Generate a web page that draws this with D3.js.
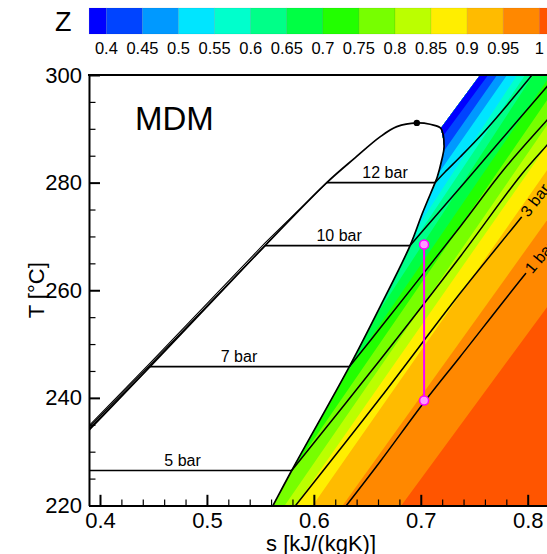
<!DOCTYPE html>
<html>
<head>
<meta charset="utf-8">
<script src="https://cdn.jsdelivr.net/npm/d3@7"></script>
<style>
  html, body { margin: 0; padding: 0; background: #fff; }
  svg { display: block; font-family: "Liberation Sans", Arial, Helvetica, sans-serif; }
</style>
</head>
<body>
<svg id="chart" width="547" height="554"></svg>
<script>
// ---------------- data ----------------
// Compressibility-factor levels, legend labels and band colours (band i lies below zLevels[i])
const zLevels = [0.4, 0.45, 0.5, 0.55, 0.6, 0.65, 0.7, 0.75, 0.8, 0.85, 0.9, 0.95, 1.0];
const zTickLabels = ["0.4", "0.45", "0.5", "0.55", "0.6", "0.65", "0.7", "0.75", "0.8", "0.85", "0.9", "0.95", "1"];
const zColors = ["#0000ff", "#0044ff", "#0099ff", "#00e5ff", "#00ffcc", "#00ff88", "#00ff44",
                 "#22ff00", "#77ff00", "#bbff00", "#ffee00", "#ffbb00", "#ff8800", "#ff5500"];

// Iso-Z lines in the superheated vapour region, [s kJ/(kgK), T °C]
const zContours = [
  [[0.7209, 288.66], [0.7630, 300.0]],
  [[0.7223, 286.06], [0.7714, 300.0]],
  [[0.7162, 281.60], [0.7807, 300.0]],
  [[0.6975, 271.94], [0.7901, 300.0]],
  [[0.6806, 265.25], [0.7976, 300.0]],
  [[0.6544, 254.10], [0.8051, 300.0]],
  [[0.6198, 241.46], [0.8182, 299.07]],
  [[0.5777, 225.85], [0.8182, 295.35]],
  [[0.5731, 220.09], [0.8182, 290.71]],
  [[0.5833, 220.09], [0.8182, 286.99]],
  [[0.5993, 220.09], [0.8182, 282.35]],
  [[0.6273, 220.09], [0.8182, 273.05]],
  [[0.6822, 220.09], [0.8182, 256.89]]
];

// Saturation dome: liquid branch up to the critical point, vapour branch down from it
const satLiquid = [[0.380, 232.1], [0.3897, 234.0], [0.4468, 245.8], [0.5544, 268.3], [0.6121, 280.0],
                   [0.6385, 284.6], [0.6619, 288.5], [0.6776, 290.4], [0.6963, 291.1]];
const satVapor = [[0.6963, 291.1], [0.7087, 290.84], [0.7187, 290.1], [0.7218, 286.7], [0.7196, 284.2],
                  [0.7155, 281.1], [0.7134, 280.0], [0.7017, 274.4], [0.6900, 268.3], [0.6619, 256.9],
                  [0.6332, 245.8], [0.5793, 226.5], [0.5621, 220.1], [0.5585, 218.8]];
const criticalPoint = [0.6963, 291.1];
// Upper edge of the tabulated vapour region
const vapourEdge = [[0.7187, 290.1], [0.7555, 300.0]];

// Two-phase isobars (pressure, saturation T, liquid s, vapour s, label s)
const twoPhaseBar = [12, 10, 7, 5];
const twoPhaseT = [280.0, 268.3, 245.8, 226.5];
const twoPhaseSLiq = [0.6121, 0.5544, 0.4468, 0.380];
const twoPhaseSVap = [0.7134, 0.6900, 0.6332, 0.5793];
const twoPhaseLabelS = [0.6666, 0.6236, 0.5300, 0.4772];

// Compressed-liquid isobars
const liquid12 = [[0.6121, 280.0], [0.5544, 268.8], [0.4468, 246.45], [0.380, 232.85]];
const liquid10 = [[0.5544, 268.3], [0.4468, 246.15], [0.380, 232.55]];
const liquid7 = [[0.4468, 245.8], [0.380, 232.22]];

// Superheated-vapour isobars
const vapour12 = [[0.7134, 280.0], [0.7227, 281.97], [0.7368, 284.76], [0.7583, 289.22], [0.7817, 294.61], [0.8041, 300.0], [0.812, 301.9]];
const vapour10 = [[0.6900, 268.3], [0.7430, 280.49], [0.8179, 297.83], [0.830, 300.6]];
const vapour7 = [[0.6332, 245.8], [0.6619, 252.93], [0.7368, 271.81], [0.7773, 282.35], [0.8182, 291.64], [0.830, 294.3]];
const vapour5 = [[0.5793, 226.5], [0.6619, 247.04], [0.7368, 266.23], [0.7938, 281.42], [0.8182, 286.99], [0.830, 289.7]];
const vapour3 = [[0.5796, 219.16], [0.6619, 239.92], [0.7368, 259.43], [0.7945, 273.67], [0.8182, 279.74], [0.830, 282.8]];
const vapour1 = [[0.6264, 218.98], [0.6619, 228.14], [0.7040, 239.42], [0.7368, 247.65], [0.7985, 263.20], [0.8182, 267.85], [0.830, 270.6]];
const vapourLabels = [{ text: "3 bar", line: vapour3, s: 0.7950 }, { text: "1 bar", line: vapour1, s: 0.7990 }];

// Expansion process (constant entropy)
const processS = 0.7031;
const processT = [268.5, 239.5];

// Axis ticks
const xTicks = [0.4, 0.5, 0.6, 0.7, 0.8];
const yTicks = [220, 240, 260, 280, 300];

// ---------------- layout ----------------
const W = 547, H = 554;
const sLeft = 0.3897, sRight = 0.83;
const x = d3.scaleLinear().domain([0.4, 0.8]).range([100, 527.7]);
const y = d3.scaleLinear().domain([220, 300]).range([505.5, 75]);
const xAxisScale = d3.scaleLinear().domain([sLeft, sRight]).range([x(sLeft), x(sRight)]);

const svg = d3.select("#chart");
const defs = svg.append("defs");

const plotL = x(sLeft), plotR = x(sRight), plotT = y(300), plotB = y(220);
defs.append("clipPath").attr("id", "plotClip")
  .append("rect").attr("x", plotL).attr("y", plotT).attr("width", plotR - plotL).attr("height", plotB - plotT);

const px = d => [x(d[0]), y(d[1])];
const straight = d3.line().x(d => x(d[0])).y(d => y(d[1]));
const smooth = d3.line().x(d => x(d[0])).y(d => y(d[1])).curve(d3.curveCatmullRom.alpha(0.5));

// Vapour-region outline: edge line above the dome, then the saturated vapour curve downwards
{
  const a = px(vapourEdge[0]), b = px(vapourEdge[1]);
  const len = Math.hypot(b[0] - a[0], b[1] - a[1]);
  const top = [b[0] + (b[0] - a[0]) / len * 120, b[1] + (b[1] - a[1]) / len * 120];
  const vap = smooth(satVapor.slice(2));
  const d = `M${top[0]},${top[1]}L` + vap.slice(1) + `L${W + 200},${H + 200}L${W + 200},-200Z`;
  defs.append("clipPath").attr("id", "fieldClip").append("path").attr("d", d);
}

// ---------------- coloured Z field ----------------
const field = svg.append("g").attr("clip-path", "url(#plotClip)")
  .append("g").attr("clip-path", "url(#fieldClip)");
field.append("rect").attr("x", plotL).attr("y", plotT).attr("width", plotR - plotL).attr("height", plotB - plotT)
  .attr("fill", zColors[zColors.length - 1]);

// Each iso-Z line bounds the lower-Z side (up and to the left); paint from high to low Z
function lowSide(c) {
  const p = c.map(px);
  const n = p.length;
  const d0 = [p[0][0] - p[1][0], p[0][1] - p[1][1]], l0 = Math.hypot(d0[0], d0[1]);
  const d1 = [p[n - 1][0] - p[n - 2][0], p[n - 1][1] - p[n - 2][1]], l1 = Math.hypot(d1[0], d1[1]);
  const start = [p[0][0] + d0[0] / l0 * 4000, p[0][1] + d0[1] / l0 * 4000];
  const end = [p[n - 1][0] + d1[0] / l1 * 4000, p[n - 1][1] + d1[1] / l1 * 4000];
  return [start, ...p, end, [-9000, -9000], [-9000, 9000]];
}
for (let k = zLevels.length - 1; k >= 0; k--) {
  field.append("path")
    .attr("d", "M" + lowSide(zContours[k]).map(q => q.join(",")).join("L") + "Z")
    .attr("fill", zColors[k]);
}

// ---------------- isolines ----------------
const lines = svg.append("g").attr("clip-path", "url(#plotClip)")
  .attr("fill", "none").attr("stroke", "#000").attr("stroke-linejoin", "round");

// masks that open a gap in the labelled vapour isobars
const labelGeom = vapourLabels.map((L, i) => {
  const pts = L.line;
  let j = 1;
  while (j < pts.length - 1 && pts[j][0] < L.s) j++;
  const a = pts[j - 1], b = pts[j];
  const t = (L.s - a[0]) / (b[0] - a[0]);
  const T = a[1] + t * (b[1] - a[1]);
  const pa = px(a), pb = px(b);
  const ang = Math.atan2(pb[1] - pa[1], pb[0] - pa[0]) * 180 / Math.PI;
  const p = [x(L.s), y(T)];
  const m = defs.append("mask").attr("id", "lblMask" + i).attr("maskUnits", "userSpaceOnUse")
    .attr("x", 0).attr("y", 0).attr("width", W).attr("height", H);
  m.append("rect").attr("x", 0).attr("y", 0).attr("width", W).attr("height", H).attr("fill", "#fff");
  m.append("rect").attr("x", -1).attr("y", -8).attr("width", 80).attr("height", 16)
    .attr("transform", `translate(${p[0]},${p[1]}) rotate(${ang})`).attr("fill", "#000");
  return { p, ang, text: L.text, line: L.line, mask: "lblMask" + i };
});

[vapour12, vapour10, vapour7, vapour5].forEach(v =>
  lines.append("path").attr("d", smooth(v)).attr("stroke-width", 1.5));
labelGeom.forEach(g =>
  lines.append("path").attr("d", smooth(g.line)).attr("stroke-width", 1.5).attr("mask", `url(#${g.mask})`));

[liquid12, liquid10, liquid7].forEach(v =>
  lines.append("path").attr("d", straight(v)).attr("stroke-width", 1.1));

twoPhaseBar.forEach((p, i) =>
  lines.append("line")
    .attr("x1", x(twoPhaseSLiq[i])).attr("x2", x(twoPhaseSVap[i]))
    .attr("y1", y(twoPhaseT[i])).attr("y2", y(twoPhaseT[i]))
    .attr("stroke-width", 1.7));

lines.append("path").attr("d", smooth(satLiquid.concat(satVapor.slice(1)))).attr("stroke-width", 1.7);

// ---------------- expansion process & critical point ----------------
svg.append("line")
  .attr("x1", x(processS)).attr("x2", x(processS))
  .attr("y1", y(processT[0])).attr("y2", y(processT[1]))
  .attr("stroke", "#ff00ff").attr("stroke-width", 2);
svg.selectAll("circle.state").data(processT).join("circle").attr("class", "state")
  .attr("cx", x(processS)).attr("cy", d => y(d)).attr("r", 4.5)
  .attr("fill", "#ff99ff").attr("stroke", "#ff00ff").attr("stroke-width", 1.5);

svg.append("circle").attr("cx", x(criticalPoint[0])).attr("cy", y(criticalPoint[1]))
  .attr("r", 3.2).attr("fill", "#000");

// ---------------- axes ----------------
const axisFont = 22;
const yMinor = d3.range(225, 300, 5).filter(v => v % 20 !== 0);
const xMinor = d3.range(0.42, 0.83, 0.02).map(v => +v.toFixed(2)).filter(v => Math.round(v * 100) % 10 !== 0);

const gy = svg.append("g").attr("transform", `translate(${plotL},0)`);
gy.call(d3.axisLeft(y).tickValues(yTicks).tickSize(-11).tickSizeOuter(0).tickPadding(7).tickFormat(d3.format("d")));
gy.select(".domain").attr("stroke-width", 2);
gy.selectAll(".tick line").attr("stroke-width", 2);
gy.selectAll(".tick text").attr("font-size", axisFont).attr("font-family", null).attr("fill", "#000");
const gym = svg.append("g").attr("transform", `translate(${plotL},0)`);
gym.call(d3.axisLeft(y).tickValues(yMinor).tickSize(-6.5).tickFormat(""));
gym.select(".domain").remove();
gym.selectAll(".tick line").attr("stroke-width", 1.2);

const gx = svg.append("g").attr("transform", `translate(0,${plotB})`);
gx.call(d3.axisBottom(xAxisScale).tickValues(xTicks).tickSize(-10.7).tickSizeOuter(0).tickPadding(7).tickFormat(d3.format(".1f")));
gx.select(".domain").attr("stroke-width", 2);
gx.selectAll(".tick line").attr("stroke-width", 2);
gx.selectAll(".tick text").attr("font-size", axisFont).attr("font-family", null).attr("fill", "#000");
const gxm = svg.append("g").attr("transform", `translate(0,${plotB})`);
gxm.call(d3.axisBottom(xAxisScale).tickValues(xMinor).tickSize(-6).tickFormat(""));
gxm.select(".domain").remove();
gxm.selectAll(".tick line").attr("stroke-width", 1.2);

// top frame
svg.append("line").attr("x1", plotL - 1).attr("x2", plotR).attr("y1", plotT).attr("y2", plotT)
  .attr("stroke", "#000").attr("stroke-width", 2);

svg.append("text").attr("x", (plotL + x(0.82)) / 2 + 2).attr("y", 550.5)
  .attr("text-anchor", "middle").attr("font-size", axisFont).text("s [kJ/(kgK)]");
svg.append("text").attr("transform", `translate(44,${(plotT + plotB) / 2}) rotate(-90)`)
  .attr("text-anchor", "middle").attr("font-size", axisFont).text("T [°C]");

// ---------------- labels ----------------
svg.append("text").attr("x", 135).attr("y", 130).attr("font-size", 33).text("MDM");

twoPhaseBar.forEach((p, i) =>
  svg.append("text").attr("x", x(twoPhaseLabelS[i])).attr("y", y(twoPhaseT[i]) - 5)
    .attr("text-anchor", "middle").attr("font-size", 16).text(p + " bar"));

labelGeom.forEach(g =>
  svg.append("text").attr("transform", `translate(${g.p[0]},${g.p[1]}) rotate(${g.ang})`)
    .attr("x", 2).attr("dy", "0.36em").attr("font-size", 16).text(g.text));

// ---------------- colour legend ----------------
const cb = d3.scaleLinear().domain([0.4, 1.0]).range([106.4, 539.3]);
const cbTop = 8, cbH = 26;
const bandEdges = [0.376].concat(zLevels, [1.05]);
const legend = svg.append("g");
legend.selectAll("rect").data(zColors).join("rect")
  .attr("x", (d, i) => cb(bandEdges[i]))
  .attr("width", (d, i) => cb(bandEdges[i + 1]) - cb(bandEdges[i]))
  .attr("y", cbTop).attr("height", cbH)
  .attr("fill", d => d).attr("stroke", "rgba(0,0,0,0.12)").attr("stroke-width", 0.6);
legend.selectAll("text").data(zLevels).join("text")
  .attr("x", d => cb(d)).attr("y", 54).attr("text-anchor", "middle").attr("font-size", 16.5)
  .text((d, i) => zTickLabels[i]);
svg.append("text").attr("x", 55).attr("y", 31).attr("font-size", 27).text("Z");
</script>
</body>
</html>
